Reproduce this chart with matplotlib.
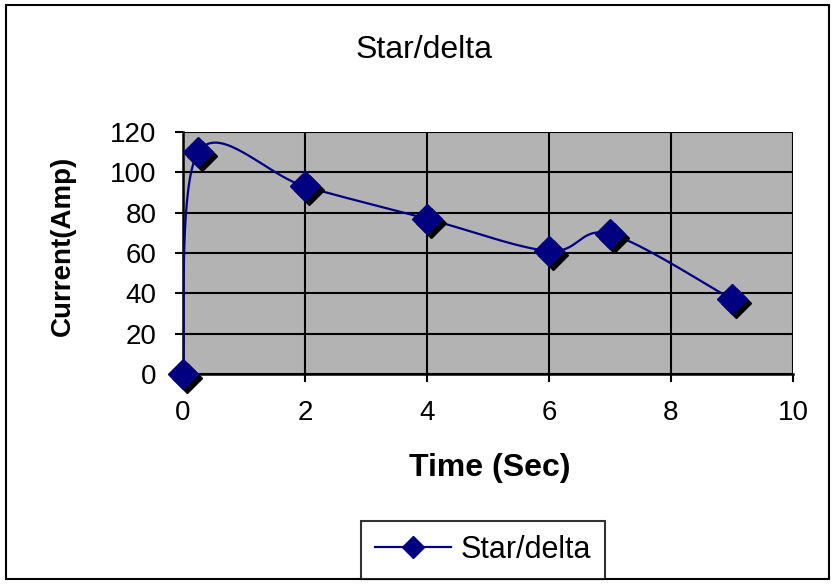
import matplotlib.pyplot as plt
import matplotlib.transforms as mtransforms
from matplotlib.lines import Line2D
from matplotlib.patches import Rectangle
import numpy as np

plt.rcParams['font.family'] = ['Liberation Sans', 'DejaVu Sans']

# data
time_s = [0, 0.25, 2, 4, 6, 7, 9]
current_a = [0, 110, 93, 77, 61, 69.5, 37]
series_name = 'Star/delta'


def smooth(xs, ys, n=40):
    # Excel-like smoothed line (uniform Catmull-Rom between the points)
    px = np.array(xs, float)
    py = np.array(ys, float)
    px = np.concatenate([[px[0]], px, [px[-1]]])
    py = np.concatenate([[py[0]], py, [py[-1]]])
    outx, outy = [], []
    t = np.linspace(0, 1, n)
    for i in range(1, len(px) - 2):
        x0, x1, x2, x3 = px[i - 1:i + 3]
        y0, y1, y2, y3 = py[i - 1:i + 3]
        cx1 = x1 + (x2 - x0) / 6
        cy1 = y1 + (y2 - y0) / 6
        cx2 = x2 - (x3 - x1) / 6
        cy2 = y2 - (y3 - y1) / 6
        bx = (1 - t) ** 3 * x1 + 3 * (1 - t) ** 2 * t * cx1 + 3 * (1 - t) * t ** 2 * cx2 + t ** 3 * x2
        by = (1 - t) ** 3 * y1 + 3 * (1 - t) ** 2 * t * cy1 + 3 * (1 - t) * t ** 2 * cy2 + t ** 3 * y2
        outx.extend(bx)
        outy.extend(by)
    return outx, outy


fig = plt.figure(figsize=(8.34, 5.84), dpi=100)
fig.patch.set_facecolor('white')
fig.patches.append(Rectangle((6 / 834, 5 / 584), 823 / 834, 574 / 584, transform=fig.transFigure,
                             fill=False, edgecolor='black', linewidth=1.5))

ax = fig.add_axes([183 / 834, 1 - 374 / 584, 610 / 834, 242 / 584])
ax.set_facecolor('#b3b3b3')

sx, sy = smooth(time_s, current_a)
ax.plot(sx, sy, color='#000080', linewidth=1.6, zorder=3)

# shadowed diamond markers
shadow = mtransforms.offset_copy(ax.transData, fig=fig, x=4, y=-4, units='dots')
ax.plot(time_s, current_a, linestyle='none', marker='D', markersize=15, color='black',
        transform=shadow, zorder=4, clip_on=False)
ax.plot(time_s, current_a, linestyle='none', marker='D', markersize=15, color='#000080',
        zorder=5, clip_on=False)

ax.set_xlim(0, 10)
ax.set_ylim(0, 120)
ax.set_xticks(range(0, 11, 2))
ax.set_yticks(range(0, 121, 20))
ax.grid(True, color='black', linewidth=1.5)
ax.set_axisbelow(True)
for sp in ax.spines.values():
    sp.set_visible(False)
ax.spines['left'].set_visible(True)
ax.spines['bottom'].set_visible(True)
ax.spines['left'].set_linewidth(1.8)
ax.spines['bottom'].set_linewidth(1.8)
ax.tick_params(direction='out', length=6, width=1.5, labelsize=20)
ax.tick_params(axis='x', pad=13)
ax.tick_params(axis='y', pad=13)

fig.text(490 / 834, 1 - 468 / 584, 'Time (Sec)', fontsize=23, fontweight='bold', ha='center', va='center')
fig.text(63 / 834, 1 - 246 / 584, 'Current(Amp)', fontsize=20, fontweight='bold', rotation=90,
         ha='center', va='center')
fig.text(424 / 834, 1 - 50 / 584, 'Star/delta', fontsize=23, ha='center', va='center')

handle = Line2D([], [], color='#000080', marker='D', markersize=11, linewidth=1.6)
leg = fig.legend([handle], [series_name], loc='center', bbox_to_anchor=(483 / 834, 1 - 550 / 584),
                 fontsize=22, frameon=True, fancybox=False, edgecolor='black', handlelength=2.5,
                 handletextpad=0.3, borderpad=0.45, borderaxespad=0)
leg.get_frame().set_linewidth(1.5)

plt.savefig('out.png', dpi=100)
